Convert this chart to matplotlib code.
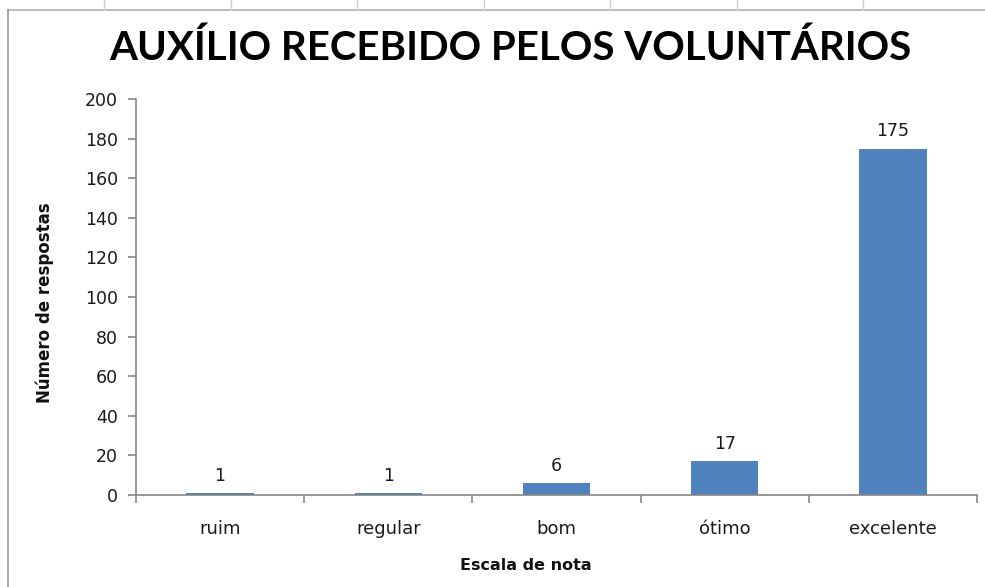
import matplotlib
matplotlib.use("Agg")
import matplotlib.pyplot as plt
from matplotlib.lines import Line2D

categories = ["ruim", "regular", "bom", "ótimo", "excelente"]
values = [1, 1, 6, 17, 175]
yticks = [0, 20, 40, 60, 80, 100, 120, 140, 160, 180, 200]

plt.rcParams['font.family'] = ['DejaVu Sans']

W, H = 985, 587
fig = plt.figure(figsize=(W / 100, H / 100), dpi=100)
fig.patch.set_facecolor("white")

# spreadsheet frame decorations
def fx(x): return x / W
def fy(y): return 1 - y / H
fig.add_artist(Line2D([fx(8), fx(985)], [fy(10), fy(10)], color="#b0b0b0", lw=1.2))
fig.add_artist(Line2D([fx(8), fx(8)], [fy(10), fy(587)], color="#9a9a9a", lw=1.2))
for x in [104, 231, 357, 484, 610, 737, 863]:
    fig.add_artist(Line2D([fx(x), fx(x)], [fy(0), fy(10)], color="#d0d0d0", lw=1))

ax = fig.add_axes([fx(136), fy(495), fx(977) - fx(136), fy(99) - fy(495)])
x = list(range(len(categories)))
bars = ax.bar(x, values, width=0.4, color="#5083BE", zorder=2)
ax.set_xlim(-0.5, len(categories) - 0.5)
ax.set_ylim(0, 200)
ax.set_yticks(yticks)
ax.set_yticklabels([str(t) for t in yticks], fontsize=12.5, color="#1a1a1a")
ax.set_xticks(x)
ax.set_xticklabels(categories, fontsize=13, color="#1a1a1a")
ax.tick_params(axis="x", length=0, pad=18)
ax.tick_params(axis="y", length=6, width=1.2, color="#868686", pad=7)
# category boundary ticks
ax.set_xticks([i - 0.5 for i in range(len(categories) + 1)], minor=True)
ax.tick_params(axis="x", which="minor", length=6, width=1.2, color="#868686")

for s in ["top", "right"]:
    ax.spines[s].set_visible(False)
for s in ["left", "bottom"]:
    ax.spines[s].set_color("#868686")
    ax.spines[s].set_linewidth(1.2)

for b, v in zip(bars, values):
    ax.annotate(str(v), (b.get_x() + b.get_width() / 2, v), xytext=(0, 6),
                textcoords="offset points", ha="center", va="bottom",
                fontsize=12.5, color="#1a1a1a")

fig.text(fx(45), fy(303), "Número de respostas", rotation=90, ha="center", va="center",
         fontsize=12, fontweight="bold", color="#111111")
fig.text(fx(526), fy(566), "Escala de nota", ha="center", va="center",
         fontsize=11.5, fontweight="bold", color="#111111")
fig.text(fx(510), fy(48), "AUXÍLIO RECEBIDO PELOS VOLUNTÁRIOS", ha="center", va="center",
         fontsize=29, fontweight="bold", family=["Lato", "DejaVu Sans"], color="#000000")

fig.savefig("out.png", dpi=100, facecolor="white")
